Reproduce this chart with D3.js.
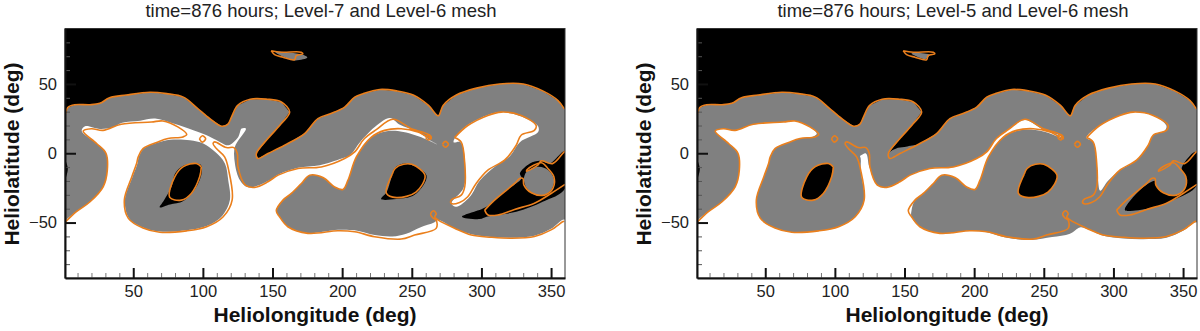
<!DOCTYPE html>
<meta charset="utf-8">
<style>
body { margin: 0; background: #fff; }
text { font-family: "Liberation Sans", Arial, sans-serif; fill: #222; }
.title { font-size: 18.5px; }
.axisTitle { font-size: 21px; font-weight: bold; fill: #111; }
.tick text { font-size: 16.5px; font-family: "Liberation Sans", Arial, sans-serif; fill: #222; }
</style>
<svg width="1200" height="331"></svg>
<script src="https://d3js.org/d3.v7.min.js"></script>
<script>

// every shape below is [heliolongitude, heliolatitude] in degrees

var xMajor = [50, 100, 150, 200, 250, 300, 350];
var xMinor = [10, 20, 30, 40, 60, 70, 80, 90, 110, 120, 130, 140, 160, 170, 180, 190, 210, 220, 230, 240, 260, 270, 280, 290, 310, 320, 330, 340];
var yMajor = [50, 0, -50];
var yMinor = [80, 70, 60, 40, 30, 20, 10, -10, -20, -30, -40, -60, -70, -80];

var titles = ["time=876 hours; Level-7 and Level-6 mesh", "time=876 hours; Level-5 and Level-6 mesh"];

// Level-6 contour, same in both panels
var upperContour = [[1.5,28.5],[3,33],[8,35],[19,35],[26,36],[33,40],[45,42],[62,44],[74,43],[86,40.5],[95.5,33],[105,25],[113.5,19.5],[118,21],[120.5,26],[125,34.5],[134,39],[146,39],[156.3,37],[162.3,29.8],[156.3,21.4],[146.7,10.6],[138.4,-0.2],[139.5,-3.8],[146.7,-0.2],[158.7,5.8],[173,14.2],[182.6,25],[192,28.6],[201.8,33.3],[209,40.5],[215,43],[227,46],[239,45],[251,42],[262,34.5],[269,27],[272.5,34.5],[282,42],[296.5,47],[313,50],[330,50],[344,45],[355,38],[359.5,32]];

var innerContour = [[1.5,-49.4],[9.4,-42],[19,-35],[28.5,-24],[31.4,-12],[30.4,0],[23.7,7],[14,16],[20,17.7],[28.3,16.5],[41.4,20.9],[63,22.5],[71.3,23.3],[82,19],[88.4,13.5],[85.7,11.8],[75,10.6],[67.8,8.2],[57,3.4],[53.6,-2.6],[52.4,-7.4],[49,-17],[43.6,-33.8],[46.5,-47],[57,-54],[69,-57],[88.3,-56],[102.7,-53],[114.6,-45.8],[121,-33.8],[118.5,-12.2],[115.6,-2.6],[109.7,3.4],[107.3,7],[108.5,8.2],[116.8,4.1],[122.3,4.1],[124.7,-0.2],[125.2,-9.8],[130.5,-23],[137.2,-24.6],[146.7,-20.6],[154,-15.8],[168.3,-11],[185,-9.9],[201.8,-3.8],[209,1],[216,10.6],[224.5,17],[236.4,24.5],[249.6,17.7],[261.5,13.7],[264,10.5],[254.4,15.3],[242.4,17.7],[230.4,16.5],[221,11.7],[210.2,-2.7],[204.2,-19.4],[200.6,-26.1],[194.6,-24.3],[186.2,-17.5],[176.7,-15.8],[170.7,-21.8],[163.5,-29],[157.5,-33.8],[152.7,-41.5],[155,-45.8],[161,-53],[175.4,-57.8],[197,-55.9],[209,-56.6],[223.3,-60.2],[242.4,-61.9],[252,-59],[267.5,-54.2],[267.5,-48.2],[265,-46.5],[263.5,-44],[265.5,-41.5],[267.5,-43.5],[266.5,-46],[268.8,-48.1],[280.7,-54.1],[292.7,-59],[307,-60.6],[321.4,-61.3],[338.1,-60],[350,-55.3],[358.5,-49.3],[359.5,-49]];

var thirdLobeContour = [[280.7,11.3],[290.2,20],[304.6,27.3],[314.2,29.7],[328.5,27.3],[339.3,20],[338,16.5],[328.5,13],[325,5.8],[316.6,-5],[304.6,-12.2],[296.2,-21.8],[290.2,-31.4],[284.3,-35.5],[278.3,-36.2],[278.3,-33.8],[285.5,-30.2],[288,-24.2],[288,-7.4],[285.5,8],[280.7,11.3]];

var wedgeUpper = [[302.3,-41],[309.4,-33.8],[323.8,-21.8],[327.4,-18.2],[329.8,-18.2],[330.5,-23],[335.8,-28.5],[345.3,-30.2],[351.3,-25.4],[352,-17],[347.7,-11],[343,-6.9],[332.9,-11.7],[332.4,-12.9],[340.5,-8.6],[343,-5.5],[351,-7.5],[358.5,0],[360,1.5]];
var wedgeLower = [[360,-22.5],[350,-29],[338.1,-36],[323.8,-40.5],[311.8,-44.5],[304.7,-44.5],[302.3,-41]];

var ringHoleContour = [[98.9,-9.8],[97.7,-17],[91.7,-29],[84.5,-33.8],[76.2,-31.8],[79.8,-17],[85.7,-9.8],[95.3,-7.4],[98.9,-9.8]];
var midHoleContour = [[236,-15],[238,-11],[244,-8],[250,-8],[259.5,-16],[253,-28],[239,-32],[231.8,-29],[236,-15]];
var islandContour = [[149,74],[156.3,72.9],[170.6,72.9],[171.8,71.7],[167,70.5],[165.8,67.4],[157.5,69.3],[151.5,71.2],[149,74]];
var circleA = [[97.5,10.4],[99.6,12.6],[102,10.4],[99.6,8],[97.5,10.4]];
var circleB = [[272,6.5],[274,8.6],[276.3,6.5],[274,4.3],[272,6.5]];
var circleC = [[259.8,11.5],[262,13.5],[264,11.5],[262,9.6],[259.8,11.5]];

// Level-7 panel fills
var whiteL7 = [[1,-50],[9.4,-42],[19,-35],[28.5,-24],[31.4,-12],[30.4,0],[23.7,7],[13,16],[15.4,19.4],[26,17.5],[35,18.5],[42,22],[55,23.5],[65.7,25],[78.8,21.4],[93.1,16.6],[102.7,13],[109.9,9.4],[118.2,5.8],[125.4,11.8],[127.8,17.8],[130.9,17.8],[123,4.6],[123,-7.4],[126.6,-19.4],[132.6,-24.6],[148,-19.4],[154,-15.5],[168.3,-10.5],[184,-8.6],[199.6,-3.8],[205.6,-1.4],[212.8,8],[224.7,20],[234.3,25.5],[241.5,20.5],[253.4,15.8],[263,9.4],[268,6.5],[260.6,10],[244,15.3],[233,16],[221,11.7],[210.2,-2.7],[204.2,-19.4],[200.6,-26.1],[194.6,-24.3],[186.2,-17.5],[176.7,-15.8],[170.7,-21.8],[163.5,-29],[157.5,-33.8],[152.7,-41.5],[155,-45.8],[161,-53],[175.4,-57.5],[197,-55.2],[209,-55.6],[223.3,-59],[236,-60],[246,-58],[256,-53.5],[266,-50],[268.8,-48.1],[280.7,-54.1],[292.7,-58.5],[307,-60.4],[321.4,-61],[338.1,-59.5],[350,-54.5],[360,-48],[360,-90],[1,-90]];
var ringL7 = [[69.2,8.2],[78.8,9.9],[90.7,9.4],[100.3,7],[108.7,1],[115.8,-7.4],[118.2,-19.4],[119.4,-33.8],[114,-45],[102.7,-52.5],[88.3,-55.5],[69,-56.5],[57,-53.5],[47,-47],[44,-33.8],[49.5,-17],[53,-7.4],[54,-2.6],[57.5,3.4]];
var thirdL7 = [[280,8],[287,18],[303.7,27.3],[315.6,29.7],[332,25],[340.7,19.4],[340.7,15.3],[327.6,8],[320,-2.6],[311,-8.6],[299,-19.4],[291.7,-31.4],[282,-38.6],[278.5,-36],[287,-25.4],[288.6,-12],[285,8]];
var ringHoleL7 = [[80,-14.6],[86,-9],[98,-8],[99.4,-12],[95.5,-24],[86,-34.5],[76.4,-37],[69,-39],[72,-34],[77.6,-24]];
var midHoleL7 = [[235.5,-17],[238,-10.5],[246,-7.5],[260.6,-16],[252,-30],[239,-33],[228,-33],[232,-28]];
var wedgeL7 = [[286,-45.8],[303.7,-38.6],[318,-26.6],[328.8,-18],[327.6,-14.6],[334.8,-7.4],[342,-5.5],[349,-7.4],[360,1.5],[360,-25.4],[344,-35],[325,-42.2],[303.7,-45.8],[299,-47.5]];
var circleL7 = [[330.5,-19.4],[332.4,-13.4],[340.8,-9.8],[348,-12.2],[352.2,-19.4],[349,-27.8],[340.8,-30.7],[333.6,-26.6]];
var islandL7 = [[152,73],[172,71],[175,69],[166,67],[157,70]];

// Level-5 panel fills
var whiteL5 = [[1,-50],[9.4,-42],[19,-35],[28.5,-24],[31.4,-12],[30.4,0],[23.7,7],[14,16],[20,17.7],[28.3,16.5],[41.4,20.9],[63,22.5],[71.3,23.3],[82,19],[87,14],[78,8],[100,-10],[118,-2],[122.3,-0.2],[124.7,-9.8],[130.5,-23],[137.2,-24.6],[146.7,-20.6],[154,-15.8],[168.3,-11],[185,-9.9],[201.8,-3.8],[209,1],[216,10.6],[224.5,17],[236.4,24],[249.6,17],[261,13],[264,10.5],[254,14.5],[242.4,17],[230.4,16],[221,11.7],[210.2,-2.7],[204.2,-19.4],[200.6,-26.1],[194.6,-24.3],[186.2,-17.5],[176.7,-15.8],[170.7,-21.8],[163.5,-29],[157.5,-33.8],[155,-41.5],[155,-45.8],[161,-53],[175.4,-57.8],[197,-55.9],[209,-57],[223.3,-61],[241,-62.5],[256,-60.5],[268.8,-58],[276,-53.5],[280.7,-54.5],[292.7,-59.5],[307,-61.5],[321.4,-62],[338.1,-61],[350,-56],[360,-50],[360,-90],[1,-90]];
var ringL5 = [[67.8,8.2],[75,10.6],[85.7,11.8],[100,10],[110,5],[118,-2],[118.5,-12.2],[121,-33.8],[114.6,-45.8],[102.7,-53],[88.3,-56],[69,-57],[57,-54],[46.5,-47],[43.6,-33.8],[49,-17],[52.4,-7.4],[53.6,-2.6],[57,3.4]];
var thirdL5 = [[280.7,11.3],[290.2,20],[304.6,27.3],[314.2,29.7],[328.5,27.3],[338,20],[337,16.5],[328.5,13],[325,5.8],[316.6,-5],[304.6,-12.2],[296,-20],[290.5,-27],[289,-20],[288,-7.4],[285.5,8]];
var sliverL5 = [[138.4,-0.2],[139.5,-3.8],[146.7,-0.2],[158.7,5.8],[150,4.5],[144,3.5]];
var wedgeL5 = [[308.2,-41],[319,-26.6],[327.4,-20.6],[330,-20],[331,-24],[335.8,-28.5],[345.3,-30.2],[351.3,-25.4],[352,-17],[349,-11],[358.5,1],[360,0],[360,-23],[343,-33.8],[331,-38.6],[314.2,-41.4]];
var islandL5 = [[155,72],[168,71],[165,68]];
var edgeSliver = [[1,-5],[3,-11],[1,-19]];

var GRAY = "#808080", ORANGE = "#ea7f1c";
var svg = d3.select("svg");
var plotBottom = 278, plotTop = 28.5;

var defs = svg.append("defs");
defs.append("filter").attr("id", "soft")
    .attr("x", "-2%").attr("y", "-2%").attr("width", "104%").attr("height", "104%")
  .append("feGaussianBlur").attr("stdDeviation", 0.4);

function drawPanel(i, left, right, fills) {
  var x = d3.scaleLinear().domain([1, 360]).range([left, right]);
  var y = d3.scaleLinear().domain([-90, 90]).range([plotBottom, plotTop]);

  var closed = d3.line().x(function(d) { return x(d[0]); }).y(function(d) { return y(d[1]); })
      .curve(d3.curveCatmullRomClosed.alpha(0.5));
  var open = d3.line().x(function(d) { return x(d[0]); }).y(function(d) { return y(d[1]); })
      .curve(d3.curveCatmullRom.alpha(0.5));
  var sharp = d3.line().x(function(d) { return x(d[0]); }).y(function(d) { return y(d[1]); });

  defs.append("clipPath").attr("id", "clip" + i).append("rect")
      .attr("x", left).attr("y", plotTop).attr("width", right - left).attr("height", plotBottom - plotTop);

  var g = svg.append("g").attr("clip-path", "url(#clip" + i + ")")
    .append("g").attr("filter", "url(#soft)");

  g.append("rect").attr("x", left).attr("y", plotTop)
      .attr("width", right - left).attr("height", plotBottom - plotTop).attr("fill", "#000");

  // gray sheet under the upper contour, the white parts get painted over it
  g.append("path").attr("fill", GRAY)
      .attr("d", sharp([[1, 28]].concat(upperContour, [[360, 32], [360, -90], [1, -90]])));

  fills.forEach(function(f) {
    g.append("path").attr("fill", f[1]).attr("d", closed(f[0]));
  });

  var lines = [upperContour, innerContour, thirdLobeContour, wedgeUpper, wedgeLower,
    ringHoleContour, midHoleContour, islandContour, circleA, circleB, circleC];
  g.selectAll(".contour").data(lines).enter().append("path")
      .attr("class", "contour")
      .attr("fill", "none")
      .attr("stroke", ORANGE)
      .attr("stroke-width", 1.6)
      .attr("stroke-linejoin", "round")
      .attr("d", open);

  svg.append("rect").attr("x", left).attr("y", plotTop)
      .attr("width", right - left).attr("height", plotBottom - plotTop)
      .attr("fill", "none").attr("stroke", "#333").attr("stroke-width", 1);

  var xMin = svg.append("g").attr("transform", "translate(0," + plotBottom + ")")
      .call(d3.axisBottom(x).tickValues(xMinor).tickSize(-5).tickSizeOuter(0).tickFormat(""));
  xMin.select(".domain").remove();
  xMin.selectAll("line").attr("stroke", "#777").attr("stroke-width", 1);

  var yMin = svg.append("g").attr("transform", "translate(" + left + ",0)")
      .call(d3.axisLeft(y).tickValues(yMinor).tickSize(-5).tickSizeOuter(0).tickFormat(""));
  yMin.select(".domain").remove();
  yMin.selectAll("line").attr("stroke", "#555").attr("stroke-width", 1);

  var xAxis = svg.append("g").attr("transform", "translate(0," + plotBottom + ")")
      .call(d3.axisBottom(x).tickValues(xMajor).tickSize(-10).tickSizeOuter(0).tickPadding(7));
  xAxis.selectAll("line").attr("stroke", "#111").attr("stroke-width", 2);
  xAxis.select(".domain").attr("stroke", "#111").attr("stroke-width", 2);

  var yAxis = svg.append("g").attr("transform", "translate(" + left + ",0)")
      .call(d3.axisLeft(y).tickValues(yMajor).tickSize(-11).tickSizeOuter(0).tickPadding(8));
  yAxis.selectAll("line").attr("stroke", "#111").attr("stroke-width", 2);
  yAxis.select(".domain").attr("stroke", "#111").attr("stroke-width", 2);

  svg.append("text").attr("class", "title")
      .attr("x", (left + right) / 2 + 6).attr("y", 17)
      .attr("text-anchor", "middle").text(titles[i]);
  svg.append("text").attr("class", "axisTitle")
      .attr("x", (left + right) / 2).attr("y", 322)
      .attr("text-anchor", "middle").text("Heliolongitude (deg)");
  svg.append("text").attr("class", "axisTitle")
      .attr("transform", "translate(" + (left - 46) + ",154) rotate(-90)")
      .attr("text-anchor", "middle").text("Heliolatitude (deg)");
}

drawPanel(0, 65, 565, [
  [whiteL7, "#fff"], [ringL7, GRAY], [thirdL7, "#fff"], [ringHoleL7, "#000"], [midHoleL7, "#000"],
  [wedgeL7, "#000"], [circleL7, GRAY], [islandL7, GRAY], [edgeSliver, "#000"]
]);

drawPanel(1, 697, 1197, [
  [whiteL5, "#fff"], [ringL5, GRAY], [thirdL5, "#fff"], [ringHoleContour, "#000"], [midHoleContour, "#000"],
  [wedgeL5, "#000"], [sliverL5, GRAY], [islandL5, GRAY], [edgeSliver, "#000"]
]);

</script>
